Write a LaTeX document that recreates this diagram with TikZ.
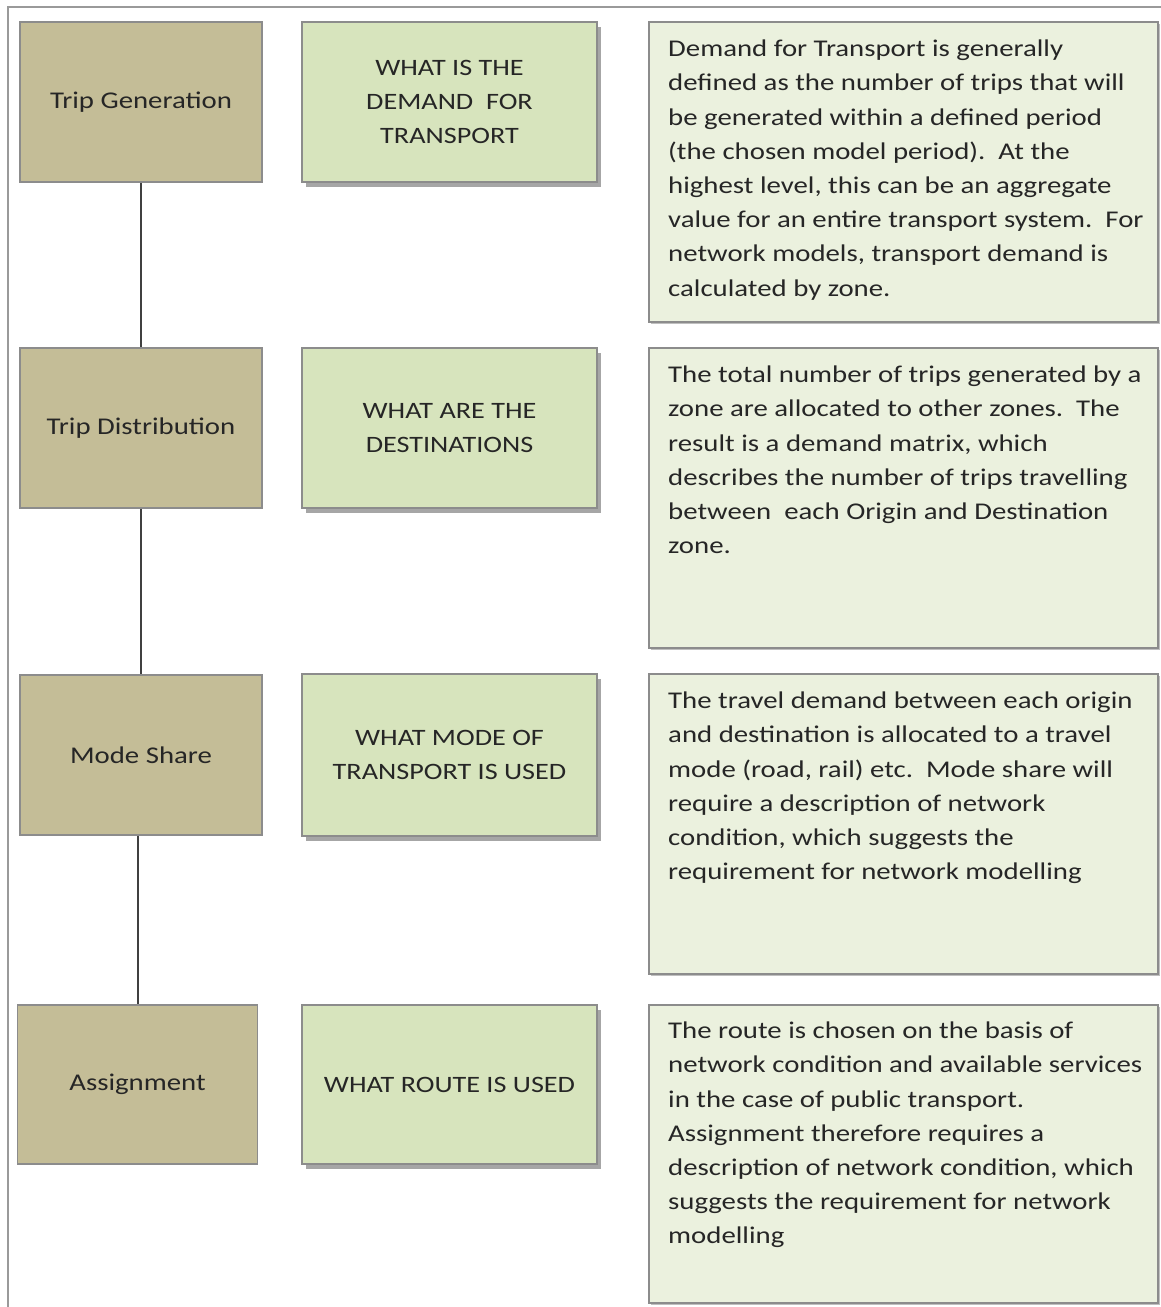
\documentclass[tikz,border=0pt]{standalone}
\usepackage{fontspec}
\setmainfont{Carlito}[FakeStretch=1.2]
\usetikzlibrary{shadows}
\definecolor{tanfill}{HTML}{C4BD97}
\definecolor{greenfill}{HTML}{D7E4BD}
\definecolor{notefill}{HTML}{EBF1DE}
\definecolor{boxline}{HTML}{8C8C8C}
\definecolor{linkline}{HTML}{404040}
\definecolor{inktext}{HTML}{262626}
\definecolor{framecol}{HTML}{9A9A9A}
\tikzset{
  x=1pt, y=-1pt,
  stagebox/.style={draw=boxline, line width=1.6pt, fill=tanfill, inner sep=0pt,
    minimum width=#1, minimum height=160pt, text=inktext,
    font=\fontsize{24}{34}\selectfont},
  qbox/.style={draw=boxline, line width=1.6pt, fill=greenfill, inner sep=0pt,
    minimum width=295pt, minimum height=160pt, align=center, text=inktext,
    font=\fontsize{23.5}{34}\selectfont,
    drop shadow={shadow xshift=4pt, shadow yshift=-5pt, fill=black, opacity=0.35}},
  notebox/.style={draw=boxline, line width=1.8pt, fill=notefill, inner sep=0pt,
    minimum width=509pt, minimum height=300pt,
    drop shadow={shadow xshift=1.5pt, shadow yshift=-1.5pt, fill=black, opacity=0.25}},
  notetext/.style={anchor=north west, inner sep=0pt, align=left, text=inktext,
    font=\fontsize{24}{34.2}\selectfont},
  link/.style={draw=linkline, line width=2pt},
}
\newcommand{\firstl}{\rule{0pt}{20pt}}
\begin{document}
\begin{tikzpicture}
\useasboundingbox (0,0) rectangle (1161,1307);
\fill[white] (0,0) rectangle (1161,1307);
\draw[framecol, line width=1.4pt] (1161,7) -- (8,7) -- (8,1307);

% stage boxes
\node[stagebox=242pt] (s1) at (141,102) {Trip Generation};
\node[stagebox=242pt] (s2) at (141,428) {Trip Distribution};
\node[stagebox=242pt] (s3) at (141,755) {Mode Share};
\node[stagebox=240pt, minimum height=159pt] (s4) at (137.5,1084.5) {Assignment};

% connectors
\draw[link] (s1.south) -- (s2.north);
\draw[link] (s2.south) -- (s3.north);
\draw[link] (s4.north |- s3.south) -- (s4.north);

% question boxes
\node[qbox] (q1) at (449.5,102) {WHAT IS THE\\DEMAND\ \ FOR\\TRANSPORT};
\node[qbox] (q2) at (449.5,428) {WHAT ARE THE\\DESTINATIONS};
\node[qbox, minimum height=162pt] (q3) at (449.5,755) {WHAT MODE OF\\TRANSPORT IS USED};
\node[qbox, minimum height=159pt] (q4) at (449.5,1084.5) {WHAT ROUTE IS USED};

% description boxes
\node[notebox] (n1) at (903.5,172) {};
\node[notebox] (n2) at (903.5,498) {};
\node[notebox] (n3) at (903.5,824) {};
\node[notebox, minimum height=298pt] (n4) at (903.5,1154) {};

\node[notetext] (t1) at (668,36.5) {\firstl Demand for Transport is generally\\
defined as the number of trips that will\\
be generated within a defined period\\
(the chosen model period).\ \ At the\\
highest level, this can be an aggregate\\
value for an entire transport system.\ \ For\\
network models, transport demand is\\
calculated by zone.};

\node[notetext] (t2) at (668,362.5) {\firstl The total number of trips generated by a\\
zone are allocated to other zones.\ \ The\\
result is a demand matrix, which\\
describes the number of trips travelling\\
between\ \ each Origin and Destination\\
zone.};

\node[notetext] (t3) at (668,688.5) {\firstl The travel demand between each origin\\
and destination is allocated to a travel\\
mode (road, rail) etc.\ \ Mode share will\\
require a description of network\\
condition, which suggests the\\
requirement for network modelling};

\node[notetext] (t4) at (668,1018.5) {\firstl The route is chosen on the basis of\\
network condition and available services\\
in the case of public transport.\\
Assignment therefore requires a\\
description of network condition, which\\
suggests the requirement for network\\
modelling};
\end{tikzpicture}
\end{document}
